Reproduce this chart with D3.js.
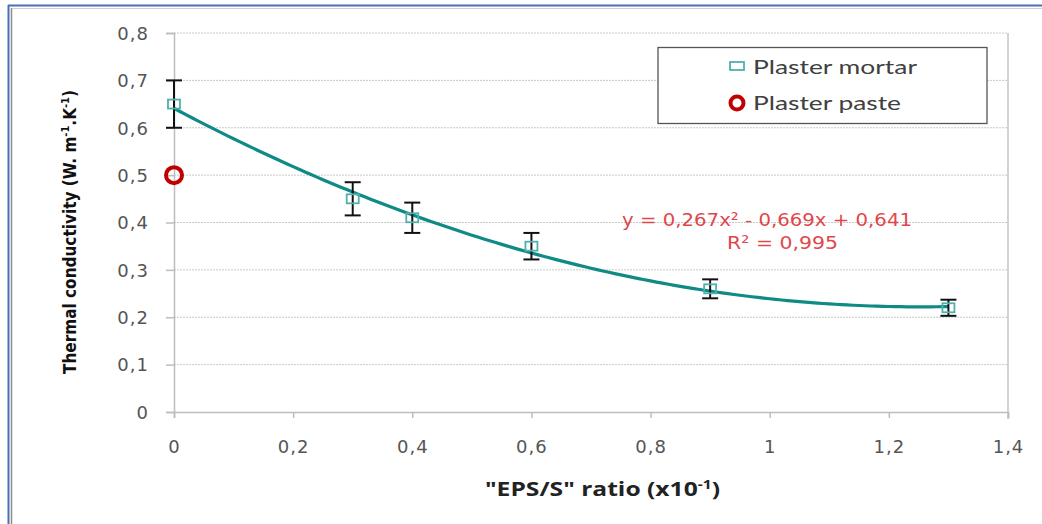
<!DOCTYPE html>
<html>
<head>
<meta charset="utf-8">
<script src="https://cdn.jsdelivr.net/npm/d3@7"></script>
<style>
  body { margin: 0; background: #fff; }
  svg text { font-family: "DejaVu Sans", Verdana, sans-serif; }
</style>
</head>
<body>
<div id="chart"></div>
<script>
// values
const ratio = [0, 0.3, 0.4, 0.6, 0.9, 1.3]
const mortar = [0.65, 0.45, 0.41, 0.35, 0.26, 0.22]
const mortarErr = [0.05, 0.035, 0.032, 0.028, 0.02, 0.017]
const pasteX = [0]
const paste = [0.5]
const fitCoef = [0.267, -0.669, 0.641]   // y = a x^2 + b x + c
const xTicks = [0, 0.2, 0.4, 0.6, 0.8, 1, 1.2, 1.4]
const yTicks = [0, 0.1, 0.2, 0.3, 0.4, 0.5, 0.6, 0.7, 0.8]
const legendNames = ["Plaster mortar", "Plaster paste"]

const width = 1042, height = 524
const fmt = d => String(+d.toFixed(1)).replace(".", ",")

const svg = d3.select("#chart").append("svg")
    .attr("width", width).attr("height", height)

// outer frame
svg.append("rect").attr("x", 0).attr("y", 0).attr("width", width).attr("height", height).attr("fill", "#fff")
svg.append("line").attr("x1", 8).attr("x2", width).attr("y1", 5.5).attr("y2", 5.5).attr("stroke", "#4a6fb5").attr("stroke-width", 2)
svg.append("line").attr("x1", 8.5).attr("x2", 8.5).attr("y1", 5).attr("y2", height).attr("stroke", "#4a6fb5").attr("stroke-width", 2)
svg.append("line").attr("x1", 11.5).attr("x2", 11.5).attr("y1", 8).attr("y2", height).attr("stroke", "#8c8c8c").attr("stroke-width", 1.5)
svg.append("line").attr("x1", 12).attr("x2", width).attr("y1", 8.5).attr("y2", 8.5).attr("stroke", "#d0d0d0").attr("stroke-width", 1)

const x = d3.scaleLinear().domain([0, 1.4]).range([174, 1008])
const y = d3.scaleLinear().domain([0, 0.8]).range([412, 33])

// grid
svg.append("g").selectAll("line").data(yTicks.filter(d => d > 0)).join("line")
    .attr("x1", x(0)).attr("x2", x(1.4))
    .attr("y1", d => y(d)).attr("y2", d => y(d))
    .attr("stroke", "#c8c8c8").attr("stroke-dasharray", "2,1")

// right plot edge
svg.append("line").attr("x1", x(1.4)).attr("x2", x(1.4)).attr("y1", y(0.8)).attr("y2", y(0) + 7)
    .attr("stroke", "#c4c4c4").attr("stroke-width", 1.5)

// axes
const xAxis = svg.append("g").attr("transform", `translate(0,${y(0)})`)
    .call(d3.axisBottom(x).tickValues(xTicks).tickFormat(fmt).tickSize(6).tickPadding(22))
const yAxis = svg.append("g").attr("transform", `translate(${x(0)},0)`)
    .call(d3.axisLeft(y).tickValues(yTicks).tickFormat(fmt).tickSize(8).tickPadding(17))
;[xAxis, yAxis].forEach(g => {
    g.select(".domain").attr("stroke", "#bdbdbd").attr("stroke-width", 1.5)
    g.selectAll(".tick line").attr("stroke", "#bdbdbd").attr("stroke-width", 1.5)
    g.selectAll(".tick text").attr("fill", "#555").style("font-size", "18px")
        .style("font-family", "Verdana, 'DejaVu Sans', sans-serif")
        .style("letter-spacing", "1px")
})
yAxis.selectAll(".tick text").attr("dy", "0.35em")

// fitted trendline from the displayed equation
const fit = v => fitCoef[0] * v * v + fitCoef[1] * v + fitCoef[2]
const fitX = d3.range(0, 1.3001, 0.01)
svg.append("path")
    .attr("d", d3.line().x(d => x(d)).y(d => y(fit(d)))(fitX))
    .attr("fill", "none").attr("stroke", "#108a86").attr("stroke-width", 3.2)

// error bars
const eb = svg.append("g").attr("stroke", "#111").attr("stroke-width", 2)
ratio.forEach((r, i) => {
    const cx = x(r), top = y(mortar[i] + mortarErr[i]), bot = y(mortar[i] - mortarErr[i])
    eb.append("line").attr("x1", cx).attr("x2", cx).attr("y1", top).attr("y2", bot)
    eb.append("line").attr("x1", cx - 8).attr("x2", cx + 8).attr("y1", top).attr("y2", top)
    eb.append("line").attr("x1", cx - 8).attr("x2", cx + 8).attr("y1", bot).attr("y2", bot)
})

// mortar markers
svg.append("g").selectAll("rect").data(ratio).join("rect")
    .attr("x", (d, i) => x(d) - 6).attr("y", (d, i) => y(mortar[i]) - 4.5)
    .attr("width", 12).attr("height", 9)
    .attr("fill", "none").attr("stroke", "#4fb0ac").attr("stroke-width", 1.8)

// paste markers
svg.append("g").selectAll("circle").data(pasteX).join("circle")
    .attr("cx", d => x(d)).attr("cy", (d, i) => y(paste[i]))
    .attr("r", 8).attr("fill", "none").attr("stroke", "#c00000").attr("stroke-width", 4)

// legend
const lg = svg.append("g")
lg.append("rect").attr("x", 658).attr("y", 47.5).attr("width", 329).attr("height", 76)
    .attr("fill", "#fff").attr("stroke", "#555").attr("stroke-width", 1.3)
lg.append("rect").attr("x", 730).attr("y", 62).attr("width", 14).attr("height", 8)
    .attr("fill", "none").attr("stroke", "#4fb0ac").attr("stroke-width", 1.8)
lg.append("circle").attr("cx", 737).attr("cy", 103).attr("r", 6.5)
    .attr("fill", "none").attr("stroke", "#c00000").attr("stroke-width", 4)
lg.selectAll("text").data(legendNames).join("text")
    .attr("x", 753).attr("y", (d, i) => i === 0 ? 67 : 103)
    .attr("dy", "0.35em").attr("fill", "#404040").style("font-size", "19px")
    .style("font-family", "Lato, 'Open Sans', sans-serif")
    .attr("textLength", (d, i) => i === 0 ? 164 : 148).attr("lengthAdjust", "spacingAndGlyphs")
    .text(d => d)

// equation
const eq = svg.append("g").attr("fill", "#e0474c").style("font-size", "18px")
    .style("font-family", "'Open Sans', 'DejaVu Sans', sans-serif")
eq.append("text").attr("x", 622).attr("y", 226)
    .attr("textLength", 290).attr("lengthAdjust", "spacingAndGlyphs")
    .text("y = 0,267x² - 0,669x + 0,641")
eq.append("text").attr("x", 727).attr("y", 249)
    .attr("textLength", 111).attr("lengthAdjust", "spacingAndGlyphs")
    .text("R² = 0,995")

// axis titles
const yt = svg.append("text")
    .attr("transform", `translate(76,232) rotate(-90)`)
    .attr("text-anchor", "middle").attr("fill", "#111")
    .style("font-size", "17px").style("font-weight", "bold")
    .style("font-family", "'DejaVu Sans Condensed', 'Liberation Sans Narrow', sans-serif")
    .attr("textLength", 284).attr("lengthAdjust", "spacingAndGlyphs")
yt.append("tspan").text("Thermal conductivity (W. m")
yt.append("tspan").attr("dy", -7).style("font-size", "11px").text("-1")
yt.append("tspan").attr("dy", 7).text(".K")
yt.append("tspan").attr("dy", -7).style("font-size", "11px").text("-1")
yt.append("tspan").attr("dy", 7).text(")")

const xt = svg.append("text")
    .attr("x", 485).attr("y", 496).attr("fill", "#222")
    .style("font-size", "19px").style("font-weight", "bold")
    .style("font-family", "'Open Sans', 'DejaVu Sans', sans-serif")
    .attr("textLength", 235).attr("lengthAdjust", "spacingAndGlyphs")
xt.append("tspan").text('"EPS/S" ratio (x10')
xt.append("tspan").attr("dy", -7).style("font-size", "12px").text("-1")
xt.append("tspan").attr("dy", 7).text(")")
</script>
</body>
</html>
